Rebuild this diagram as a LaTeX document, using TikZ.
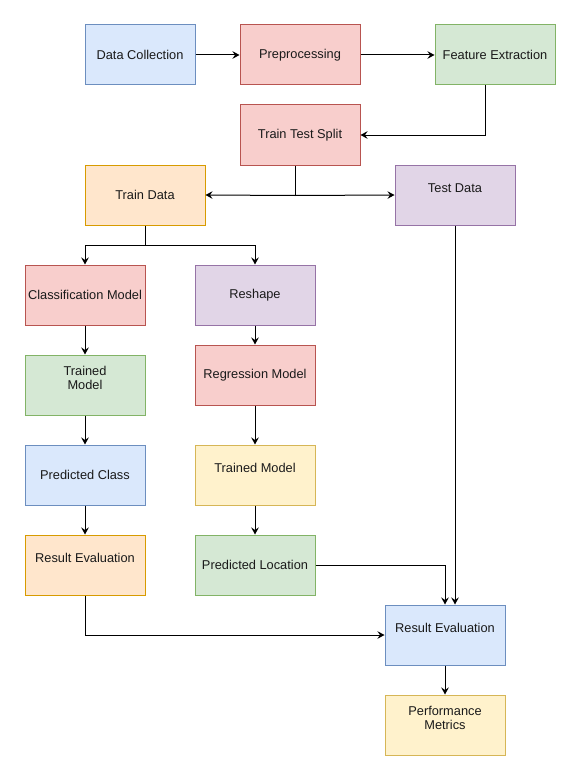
\documentclass[tikz,border=0pt]{standalone}
\usepackage{fontspec}
\setmainfont{Liberation Sans}
\usetikzlibrary{arrows.meta}

\definecolor{blueF}{HTML}{DAE8FC}\definecolor{blueD}{HTML}{6C8EBF}
\definecolor{redF}{HTML}{F8CECC}\definecolor{redD}{HTML}{B85450}
\definecolor{greenF}{HTML}{D5E8D4}\definecolor{greenD}{HTML}{82B366}
\definecolor{orangeF}{HTML}{FFE6CC}\definecolor{orangeD}{HTML}{D79B00}
\definecolor{purpleF}{HTML}{E1D5E7}\definecolor{purpleD}{HTML}{9673A6}
\definecolor{yellowF}{HTML}{FFF2CC}\definecolor{yellowD}{HTML}{D6B656}
\definecolor{txt}{HTML}{1A1A1A}

\begin{document}
\begin{tikzpicture}[x=1pt,y=-1pt,>={Stealth[length=7pt,width=7.5pt,inset=2.5pt]},
  box/.style={draw,line width=1pt,minimum width=120pt,minimum height=60pt,inner sep=2pt,
    align=center,text=txt,font=\fontsize{12.8}{14}\selectfont},
  bluebox/.style={box,fill=blueF,draw=blueD},
  redbox/.style={box,fill=redF,draw=redD},
  greenbox/.style={box,fill=greenF,draw=greenD},
  orangebox/.style={box,fill=orangeF,draw=orangeD},
  purplebox/.style={box,fill=purpleF,draw=purpleD},
  yellowbox/.style={box,fill=yellowF,draw=yellowD},
  lift/.style={text depth=#1}, lift/.default=14pt,
  conn/.style={->,line width=1pt,black}]
  \useasboundingbox (0,0) rectangle (581,781);
  % top row
  \node[bluebox,minimum width=110pt] (dc) at (140,55) {Data Collection};
  \node[redbox] (pre) at (300,55) {Preprocessing};
  \node[greenbox] (fe) at (495,55) {Feature Extraction};
  \node[redbox] (tts) at (300,135) {Train Test Split};
  \node[orangebox] (train) at (145,195) {Train Data};
  \node[purplebox,lift] (test) at (455,195) {Test Data};
  % classification branch
  \node[redbox] (cls) at (85,295) {Classification Model};
  \node[greenbox,lift=15pt] (tml) at (85,385) {Trained\\ Model};
  \node[bluebox] (pcls) at (85,475) {Predicted Class};
  \node[orangebox,lift] (revl) at (85,565) {Result Evaluation};
  % regression branch
  \node[purplebox] (reshape) at (255,295) {Reshape};
  \node[redbox] (reg) at (255,375) {Regression Model};
  \node[yellowbox,lift] (tmr) at (255,475) {Trained Model};
  \node[greenbox] (ploc) at (255,565) {Predicted Location};
  % evaluation
  \node[bluebox,lift] (rev) at (445,635) {Result Evaluation};
  \node[yellowbox,lift=15pt] (pm) at (445,725) {Performance\\ Metrics};

  \coordinate (fedrop) at ([xshift=-10pt]fe.south);
  \coordinate (ttsdrop) at ([xshift=-5pt]tts.south);
  \coordinate (split) at ([yshift=-30pt]ttsdrop);
  \coordinate (fork) at ([yshift=-20pt]train.south);

  \draw[conn] (dc) -- (pre);
  \draw[conn] (pre) -- (fe);
  \draw[conn] (fedrop) |- (tts.east);
  \draw[line width=1pt] (ttsdrop) -- (split);
  \draw[conn] (split) -- (train.east);
  \draw[conn] (split) -- (test.west);
  \draw[line width=1pt] (train.south) -- (fork);
  \draw[conn] (fork) -| (cls.north);
  \draw[conn] (fork) -| (reshape.north);
  \draw[conn] (cls) -- (tml);
  \draw[conn] (tml) -- (pcls);
  \draw[conn] (pcls) -- (revl);
  \draw[conn] (reshape) -- (reg);
  \draw[conn] (reg) -- (tmr);
  \draw[conn] (tmr) -- (ploc);
  \draw[conn] (ploc.east) -| (rev.north);
  \draw[conn] (test.south) -- (test.south |- rev.north);
  \draw[conn] (revl.south) |- (rev.west);
  \draw[conn] (rev) -- (pm);
\end{tikzpicture}
\end{document}
